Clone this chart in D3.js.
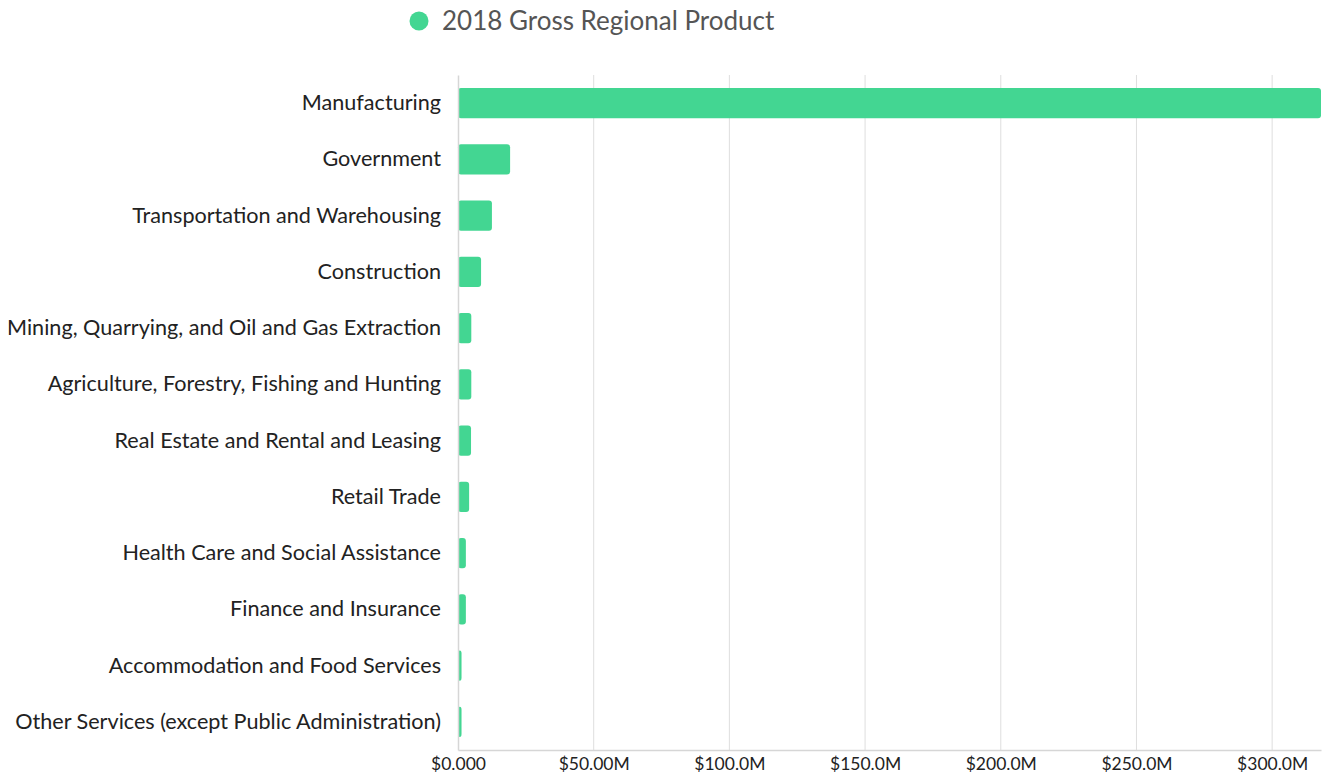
<!DOCTYPE html>
<html>
<head>
<meta charset="utf-8">
<script src="https://cdn.jsdelivr.net/npm/d3@7"></script>
<style>
  body { margin: 0; background: #fff; font-family: Lato, 'Open Sans', sans-serif; }
</style>
</head>
<body>
<div id="chart"></div>
<script>
// data (millions of dollars)
const industries = [
  'Manufacturing',
  'Government',
  'Transportation and Warehousing',
  'Construction',
  'Mining, Quarrying, and Oil and Gas Extraction',
  'Agriculture, Forestry, Fishing and Hunting',
  'Real Estate and Rental and Leasing',
  'Retail Trade',
  'Health Care and Social Assistance',
  'Finance and Insurance',
  'Accommodation and Food Services',
  'Other Services (except Public Administration)'
]
const grp2018 = [318, 19.2, 12.5, 8.5, 4.9, 4.9, 4.8, 4.1, 2.9, 2.9, 1.3, 1.3]
const xTicks = [0, 50, 100, 150, 200, 250, 300]
const tickLabels = ['$0.000', '$50.00M', '$100.0M', '$150.0M', '$200.0M', '$250.0M', '$300.0M']
const seriesName = '2018 Gross Regional Product'

const margin = { top: 75, left: 458, right: 8, bottom: 26 }
const totalW = 1329
const totalH = 776
const width = totalW - margin.left - margin.right
const height = totalH - margin.top - margin.bottom
const green = '#43d692'

const svg = d3
  .select('#chart')
  .append('svg')
  .attr('width', totalW)
  .attr('height', totalH)

const g = svg.append('g').attr('transform', `translate(${margin.left},${margin.top})`)

const xPositionScale = d3.scaleLinear().domain([0, d3.max(grp2018)]).range([0, width])
const yPositionScale = d3
  .scaleBand()
  .domain(industries)
  .range([0, height])
  .paddingInner(0.46)
  .paddingOuter(0.23)

// gridlines
g.selectAll('.grid')
  .data(xTicks.slice(1))
  .enter()
  .append('line')
  .attr('x1', d => xPositionScale(d))
  .attr('x2', d => xPositionScale(d))
  .attr('y1', 0)
  .attr('y2', height)
  .attr('stroke', '#dedede')
  .attr('stroke-width', 1)

// bars
g.selectAll('.bar')
  .data(grp2018)
  .enter()
  .append('rect')
  .attr('x', 0)
  .attr('y', (d, i) => yPositionScale(industries[i]))
  .attr('width', d => xPositionScale(d))
  .attr('height', yPositionScale.bandwidth())
  .attr('rx', 3)
  .attr('fill', green)

// x axis
const xAxis = d3
  .axisBottom(xPositionScale)
  .tickValues(xTicks)
  .tickFormat((d, i) => tickLabels[i])
  .tickSize(0)
  .tickPadding(8)
const xg = g.append('g').attr('transform', `translate(0,${height})`).call(xAxis)
xg.select('.domain').attr('stroke', '#d6d6d6').attr('stroke-width', 1.5)
xg.selectAll('text').attr('font-size', 17.5).attr('fill', '#222').attr('font-family', 'Lato')

// y axis
const yAxis = d3.axisLeft(yPositionScale).tickSize(0).tickPadding(17)
const yg = g.append('g').call(yAxis)
yg.select('.domain').attr('stroke', '#d6d6d6').attr('stroke-width', 1.5)
yg.selectAll('text').attr('font-size', 21.6).attr('fill', '#222').attr('font-family', 'Lato')

// legend
const legend = svg.append('g').attr('transform', 'translate(419,21)')
legend.append('circle').attr('r', 9.5).attr('fill', green)
legend
  .append('text')
  .attr('x', 23)
  .attr('y', 0)
  .attr('dy', '0.35em')
  .attr('font-size', 26)
  .attr('font-family', 'Lato')
  .attr('fill', '#555')
  .text(seriesName)
</script>
</body>
</html>
